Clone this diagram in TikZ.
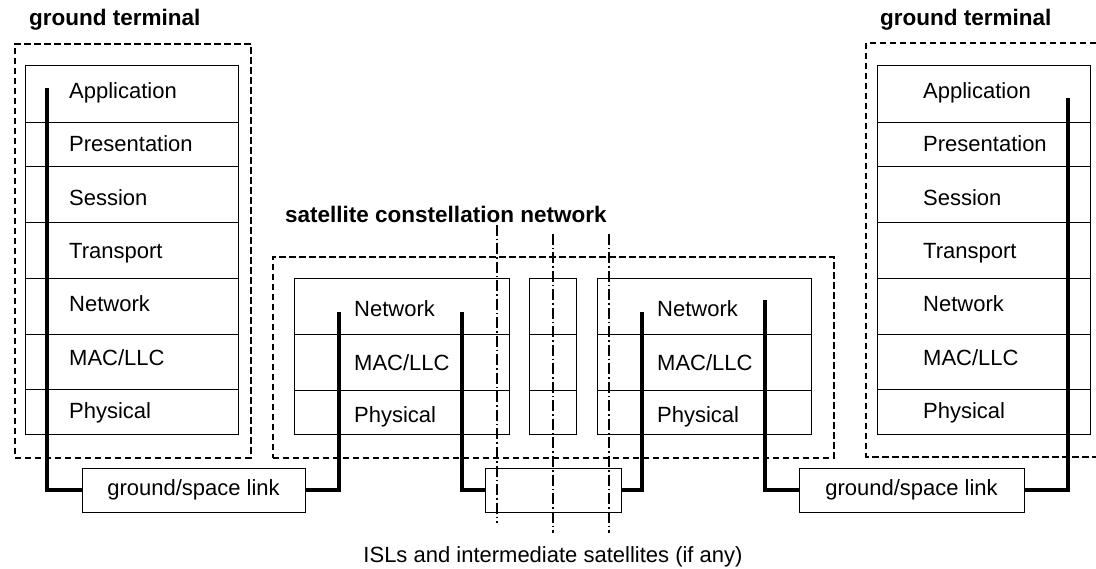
\documentclass[tikz,border=0pt]{standalone}
\usepackage{fontspec}
\setmainfont{Liberation Sans}
\begin{document}
\begin{tikzpicture}[x=1pt,y=-1pt,
  every node/.style={font=\fontsize{22}{26}\selectfont},
  layer/.style={draw, line width=0.9pt, inner sep=0pt, anchor=north west},
  lbl/.style={anchor=base west, inner sep=0pt},
  ttl/.style={anchor=base west, inner sep=0pt, font=\fontsize{22.5}{26}\selectfont\bfseries},
  group/.style={draw, line width=1.8pt, dash pattern=on 6.5pt off 3.5pt},
  linkbox/.style={draw, line width=0.9pt, inner sep=0pt, minimum height=44pt},
  thickpath/.style={line width=4.8pt, line join=miter},
  isl/.style={line width=1.1pt, dash pattern=on 11pt off 3pt on 1.5pt off 3pt}]
\useasboundingbox (0,0) rectangle (1096,569);

% dashed groups
\node[group, anchor=north west, minimum width=236pt, minimum height=414pt, inner sep=0pt] (G1) at (14,43) {};
\node[group, anchor=north west, minimum width=561pt, minimum height=201pt, inner sep=0pt] (G2) at (272,256) {};
\draw[group] (1096,43) -- (866,43) -- (866,457) -- (1096,457);

% titles
\node[ttl] (T1) at (29,26) {ground terminal};
\node[ttl] (T3) at (880,26) {ground terminal};
\node[ttl] (T2) at (285,223) {satellite constellation network};

% left stack
\node[layer, minimum width=213pt, minimum height=57pt] (La1) at (25,65) {};
\node[layer, minimum width=213pt, minimum height=44pt] (La2) at (25,122) {};
\node[layer, minimum width=213pt, minimum height=56pt] (La3) at (25,166) {};
\node[layer, minimum width=213pt, minimum height=56pt] (La4) at (25,222) {};
\node[layer, minimum width=213pt, minimum height=56pt] (La5) at (25,278) {};
\node[layer, minimum width=213pt, minimum height=55pt] (La6) at (25,334) {};
\node[layer, minimum width=213pt, minimum height=45pt] (La7) at (25,389) {};
\node[lbl] (Lt1) at (69,99) {Application};
\node[lbl] (Lt2) at (69,152) {Presentation};
\node[lbl] (Lt3) at (69,205.5) {Session};
\node[lbl] (Lt4) at (69,259) {Transport};
\node[lbl] (Lt5) at (69,312) {Network};
\node[lbl] (Lt6) at (69,365.5) {MAC/LLC};
\node[lbl] (Lt7) at (69,419) {Physical};

% right stack
\node[layer, minimum width=213pt, minimum height=57pt] (Ra1) at (877,65) {};
\node[layer, minimum width=213pt, minimum height=44pt] (Ra2) at (877,122) {};
\node[layer, minimum width=213pt, minimum height=56pt] (Ra3) at (877,166) {};
\node[layer, minimum width=213pt, minimum height=56pt] (Ra4) at (877,222) {};
\node[layer, minimum width=213pt, minimum height=56pt] (Ra5) at (877,278) {};
\node[layer, minimum width=213pt, minimum height=55pt] (Ra6) at (877,334) {};
\node[layer, minimum width=213pt, minimum height=45pt] (Ra7) at (877,389) {};
\node[lbl] (Rt1) at (923,99) {Application};
\node[lbl] (Rt2) at (923,152) {Presentation};
\node[lbl] (Rt3) at (923,205.5) {Session};
\node[lbl] (Rt4) at (923,259) {Transport};
\node[lbl] (Rt5) at (923,312) {Network};
\node[lbl] (Rt6) at (923,365.5) {MAC/LLC};
\node[lbl] (Rt7) at (923,419) {Physical};

% middle left satellite stack
\node[layer, minimum width=215pt, minimum height=56pt] (Ma1) at (294,278) {};
\node[layer, minimum width=215pt, minimum height=56pt] (Ma2) at (294,334) {};
\node[layer, minimum width=215pt, minimum height=44pt] (Ma3) at (294,390) {};
\node[lbl] (Mt1) at (354,317) {Network};
\node[lbl] (Mt2) at (354,371) {MAC/LLC};
\node[lbl] (Mt3) at (354,423) {Physical};

% intermediate small stack
\node[layer, minimum width=47pt, minimum height=56pt] (Sa1) at (529,278) {};
\node[layer, minimum width=47pt, minimum height=56pt] (Sa2) at (529,334) {};
\node[layer, minimum width=47pt, minimum height=44pt] (Sa3) at (529,390) {};

% middle right satellite stack
\node[layer, minimum width=214pt, minimum height=56pt] (Na1) at (597,278) {};
\node[layer, minimum width=214pt, minimum height=56pt] (Na2) at (597,334) {};
\node[layer, minimum width=214pt, minimum height=44pt] (Na3) at (597,390) {};
\node[lbl] (Nt1) at (657,317) {Network};
\node[lbl] (Nt2) at (657,371) {MAC/LLC};
\node[lbl] (Nt3) at (657,423) {Physical};

% link boxes
\node[linkbox, minimum width=223pt] (GS1) at (193.5,490) {ground/space link};
\node[linkbox, minimum width=136pt] (ISL) at (553,490) {};
\node[linkbox, minimum width=225pt] (GS2) at (911.5,490) {ground/space link};

% thick protocol paths
\coordinate (p1) at (47,88);
\coordinate (p2) at (339,312);
\coordinate (p3) at (462,312);
\coordinate (p4) at (642,312);
\coordinate (p5) at (765,300);
\coordinate (p6) at (1068,98);
\draw[thickpath] (p1) |- (GS1.west);
\draw[thickpath] (GS1.east) -| (p2);
\draw[thickpath] (p3) |- (ISL.west);
\draw[thickpath] (ISL.east) -| (p4);
\draw[thickpath] (p5) |- (GS2.west);
\draw[thickpath] (GS2.east) -| (p6);

% dash-dot ISL markers
\coordinate (d1a) at (497,225);
\coordinate (d1b) at (497,523);
\coordinate (d2a) at (553,234);
\coordinate (d2b) at (553,533);
\coordinate (d3a) at (609,234);
\coordinate (d3b) at (609,533);
\draw[isl] (d1a) -- (d1b);
\draw[isl] (d2a) -- (d2b);
\draw[isl] (d3a) -- (d3b);

\node[anchor=base, inner sep=0pt] (CAP) at (553,562) {ISLs and intermediate satellites (if any)};
\end{tikzpicture}
\end{document}
